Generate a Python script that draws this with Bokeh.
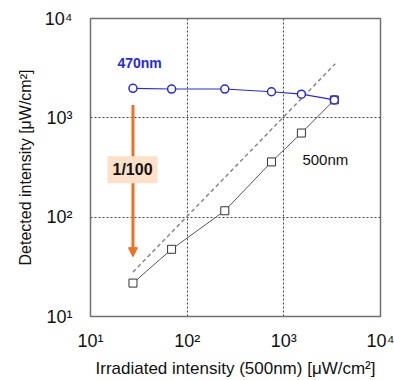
from bokeh.plotting import figure
from bokeh.embed import file_html
from bokeh.resources import INLINE
from bokeh.models import FixedTicker, CustomJSTickFormatter, Label, Arrow, NormalHead

# Data
irradiated = [27.5, 69, 245, 745, 1520, 3330]
detected_470 = [1980, 1950, 1950, 1830, 1730, 1515]
detected_500 = [21.7, 47.5, 116, 360, 703, 1515]
ref_x = [27.5, 3400]
ref_y = [28, 3500]
ticks = [10, 100, 1000, 10000]
arrow_x = 27.5
arrow_y_start = 1350
arrow_y_end = 40

FONT = "Liberation Sans"

p = figure(width=394, height=380, x_axis_type="log", y_axis_type="log",
           x_range=(10, 10000), y_range=(10, 10000),
           output_backend="svg", toolbar_location=None,
           min_border_left=90, min_border_right=14, min_border_top=18, min_border_bottom=62)

fmt = CustomJSTickFormatter(code="""
const sup = {'0':'\u2070','1':'\u00b9','2':'\u00b2','3':'\u00b3','4':'\u2074'};
const e = Math.round(Math.log10(tick));
return '10' + String(e).split('').map(c => sup[c]).join('');
""")

for ax in (p.xaxis, p.yaxis):
    ax.ticker = FixedTicker(ticks=ticks)
    ax.formatter = fmt
    ax.major_tick_line_color = None
    ax.minor_tick_line_color = None
    ax.axis_line_color = None
    ax.major_label_text_font = FONT
    ax.major_label_text_font_size = "18px"
    ax.major_label_text_color = "#111111"
    ax.axis_label_text_font = FONT
    ax.axis_label_text_font_style = "normal"
    ax.axis_label_text_color = "#111111"

p.xaxis.axis_label_text_font_size = "17px"
p.yaxis.axis_label_text_font_size = "16px"
p.xaxis.major_label_standoff = 8
p.yaxis.major_label_standoff = 12
p.xaxis.axis_label = "Irradiated intensity (500nm) [\u03bcW/cm\u00b2]"
p.yaxis.axis_label = "Detected intensity [\u03bcW/cm\u00b2]"
p.xaxis.axis_label_standoff = 5
p.yaxis.axis_label_standoff = 8

for g in (p.xgrid, p.ygrid):
    g.ticker = FixedTicker(ticks=[100, 1000])
    g.grid_line_color = "#444444"
    g.grid_line_dash = "2 2"
    g.grid_line_width = 1

p.outline_line_color = "#707070"
p.outline_line_width = 1.5
p.background_fill_color = "white"
p.border_fill_color = "white"

# reference dashed line
p.line(ref_x, ref_y, line_color="#888888", line_dash="4 3", line_width=1.5)

# 500 nm series
p.line(irradiated, detected_500, line_color="#555555", line_width=1)
p.scatter(irradiated, detected_500, marker="square", size=8, fill_color="white",
          line_color="#333333", line_width=1)

# 470 nm series
p.line(irradiated, detected_470, line_color="#2828e8", line_width=1.2)
p.scatter(irradiated, detected_470, marker="circle", size=8, fill_color="white",
          line_color="#2828e8", line_width=1.5)

# attenuation arrow
p.add_layout(Arrow(end=NormalHead(size=9, fill_color="#f07020", line_color="#f07020"),
                   x_start=arrow_x, y_start=arrow_y_start, x_end=arrow_x, y_end=arrow_y_end,
                   line_color="#f07020", line_width=3))

p.add_layout(Label(x=27.2, y=300, text="1/100", text_align="center", text_baseline="middle",
                   text_font=FONT, text_font_style="bold", text_font_size="16px",
                   text_color="#111111", background_fill_color="#fde0c8",
                   padding=5))

p.add_layout(Label(x=19, y=3548, text="470nm", text_align="left", text_baseline="middle",
                   text_font=FONT, text_font_style="bold", text_font_size="14px",
                   text_color="#2828e8"))

p.add_layout(Label(x=1556, y=380, text="500nm", text_align="left", text_baseline="middle",
                   text_font=FONT, text_font_size="15px", text_color="#111111"))

open("out.html", "w").write(file_html(p, INLINE))
